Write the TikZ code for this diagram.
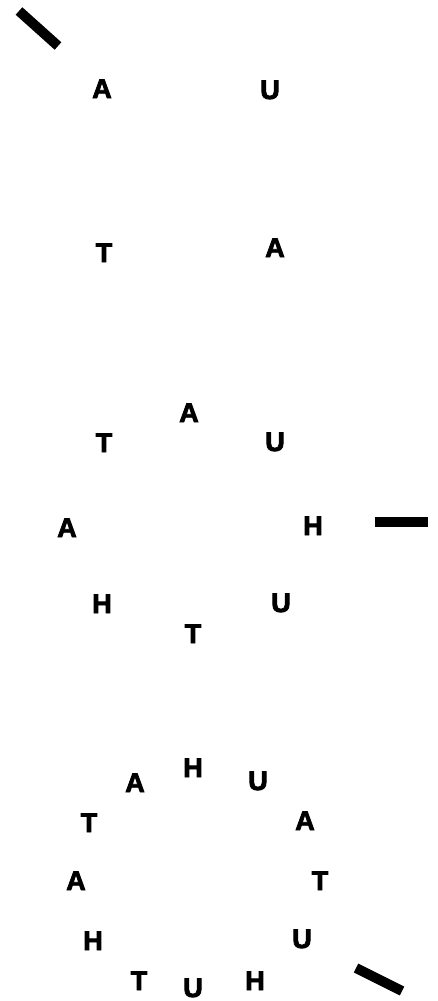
\documentclass[tikz,border=0pt]{standalone}
\usepackage{fontspec}
\setmainfont{Liberation Sans}
\newfontfamily\heavyfont[FakeBold=3]{Liberation Sans Bold}
\begin{document}
\begin{tikzpicture}[x=1pt,y=-1pt,
  lt/.style={inner sep=0pt,text height=20pt,text depth=0pt,font=\heavyfont\fontsize{27}{30}\selectfont},
  bar/.style={line width=10pt,line cap=butt}]
\useasboundingbox (0,0) rectangle (437,1001);
% group 1
\coordinate (b1s) at (19,11);
\coordinate (b1e) at (58,46);
\draw[bar] (b1s) -- (b1e);
\node[lt] (g1a) at (102,88) {A};
\node[lt] (g1b) at (270,89) {U};
\node[lt] (g1c) at (104,252) {T};
\node[lt] (g1d) at (275,247) {A};
% group 2
\node[lt] (g2a) at (189,412) {A};
\node[lt] (g2b) at (104,442) {T};
\node[lt] (g2c) at (275,441) {U};
\node[lt] (g2d) at (67,527) {A};
\node[lt] (g2e) at (313,525) {H};
\node[lt] (g2f) at (102,603) {H};
\node[lt] (g2g) at (281,602) {U};
\node[lt] (g2h) at (193,633) {T};
\coordinate (b2s) at (375,522);
\coordinate (b2e) at (428,522);
\draw[bar] (b2s) -- (b2e);
% group 3
\node[lt] (g3a) at (193,767) {H};
\node[lt] (g3b) at (135,782) {A};
\node[lt] (g3c) at (258,780) {U};
\node[lt] (g3d) at (89,822) {T};
\node[lt] (g3e) at (305,820) {A};
\node[lt] (g3f) at (76,880) {A};
\node[lt] (g3g) at (320,880) {T};
\node[lt] (g3h) at (93,940) {H};
\node[lt] (g3i) at (302,938) {U};
\node[lt] (g3j) at (139,980) {T};
\node[lt] (g3k) at (193,987) {U};
\node[lt] (g3l) at (255,980) {H};
\coordinate (b3s) at (356,968);
\coordinate (b3e) at (402,991);
\draw[bar] (b3s) -- (b3e);
\end{tikzpicture}
\end{document}
